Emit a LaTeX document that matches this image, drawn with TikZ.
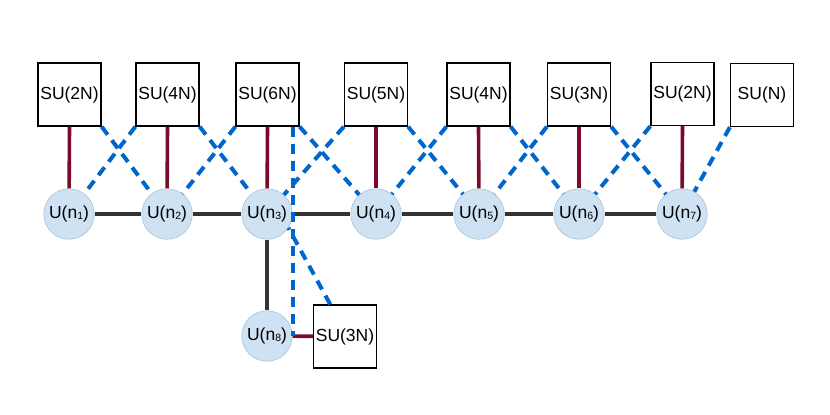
\documentclass[tikz,border=0pt]{standalone}
\usepackage{fontspec}
\setmainfont{Liberation Sans}
\usetikzlibrary{calc}
\definecolor{lblue}{HTML}{0066CC}
\definecolor{lred}{HTML}{7A0A28}
\definecolor{lgray}{HTML}{333333}
\definecolor{cfill}{HTML}{CFE2F3}
\definecolor{cborder}{HTML}{A8C3D8}
\newcommand\sbs[1]{\raisebox{-0.5pt}{\fontsize{10.5}{10.5}\selectfont #1}}
\begin{document}
\begin{tikzpicture}[x=1pt,y=-1pt,
  su/.style={draw=black, line width=1.3pt, fill=white, minimum width=63pt, minimum height=63pt, inner sep=0pt, font=\fontsize{17.5}{20}\selectfont},
  un/.style={circle, fill=cfill, draw=cborder, line width=0.6pt, minimum size=50.5pt, inner sep=0pt, font=\fontsize{17.5}{20}\selectfont},
  gl/.style={draw=lgray, line width=4pt},
  rl/.style={draw=lred, line width=3.6pt},
  bl/.style={draw=lblue, line width=4pt, dash pattern=on 10pt off 7pt}]
\useasboundingbox (0,0) rectangle (830,415);
% boxes
\node[su] (b1) at (69.5,94.5) {SU(2N)};
\node[su] (b2) at (167.5,94.5) {SU(4N)};
\node[su] (b3) at (267.5,94.5) {SU(6N)};
\node[su] (b4) at (376,94.5) {SU(5N)};
\node[su] (b5) at (478.5,94.5) {SU(4N)};
\node[su] (b6) at (579,94.5) {SU(3N)};
\node[su] (b7) at (682.5,94) {SU(2N)};
\node[su] (b8) at (762,95) {SU(N)};
\node[su] (b9) at (345,336.5) {SU(3N)};
% circles
\node[un] (n1) at (69,214) {U(n\sbs{1})};
\node[un] (n2) at (167,214) {U(n\sbs{2})};
\node[un] (n3) at (267,214) {U(n\sbs{3})};
\node[un] (n4) at (376,214) {U(n\sbs{4})};
\node[un] (n5) at (479,214) {U(n\sbs{5})};
\node[un] (n6) at (579,214) {U(n\sbs{6})};
\node[un] (n7) at (682,214) {U(n\sbs{7})};
\node[un] (n8) at (267,336) {U(n\sbs{8})};
% gray links
\draw[gl] (n1) -- (n2);
\draw[gl] (n2) -- (n3);
\draw[gl] (n3) -- (n4);
\draw[gl] (n4) -- (n5);
\draw[gl] (n5) -- (n6);
\draw[gl] (n6) -- (n7);
\draw[gl] (n3) -- (n8);
% red links
\draw[rl] (b1.south) -- (n1);
\draw[rl] (b2.south) -- (n2);
\draw[rl] (b3.south) -- (n3);
\draw[rl] (b4.south) -- (n4);
\draw[rl] (b5.south) -- (n5);
\draw[rl] (b6.south) -- (n6);
\draw[rl] (b7.south) -- (n7);
\draw[rl] (n8) -- (b9);
% blue dashed links
\draw[bl] (b1.south east) -- (n2);
\draw[bl] (b2.south west) -- (n1);
\draw[bl] (b2.south east) -- (n3);
\draw[bl] (b3.south west) -- (n2);
\draw[bl] (b3.south east) -- (n4);
\draw[bl] (b4.south west) -- (n3);
\draw[bl] (b4.south east) -- (n5);
\draw[bl] (b5.south west) -- (n4);
\draw[bl] (b5.south east) -- (n6);
\draw[bl] (b6.south west) -- (n5);
\draw[bl] (b6.south east) -- (n7);
\draw[bl] (b7.south west) -- (n6);
\draw[bl] (b8.south west) -- (n7);
\coordinate (v1) at (b3.south -| n8.east);
\draw[bl] (v1) -- (n8.east);
\coordinate (t9) at ($(b9.north west)!0.27!(b9.north east)$);
\draw[bl] (t9) -- (n3.-33);
\end{tikzpicture}
\end{document}
